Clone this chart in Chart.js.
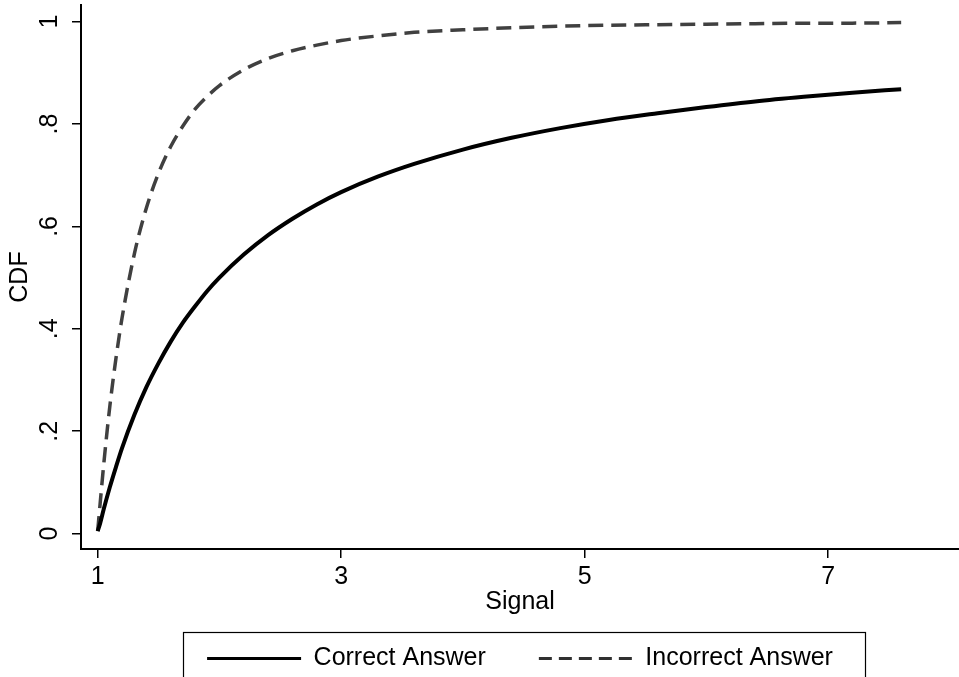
<!DOCTYPE html>
<html>
<head>
<meta charset="utf-8">
<script src="https://cdn.jsdelivr.net/npm/chart.js@4/dist/chart.umd.min.js"></script>
<style>
  html, body { margin: 0; padding: 0; background: #ffffff; }
  #wrap { width: 959px; height: 677px; position: relative; }
</style>
</head>
<body>
<div id="wrap"><canvas id="c" width="959" height="677"></canvas></div>
<script>
// Signal values (x)
const signalValues = [1.0, 1.02, 1.05, 1.1, 1.15, 1.2, 1.3, 1.4, 1.5, 1.6, 1.7, 1.8, 1.9, 2.0, 2.2, 2.4, 2.6, 2.8, 3.0, 3.3, 3.6, 4.0, 4.4, 4.8, 5.2, 5.6, 6.0, 6.4, 6.8, 7.2, 7.6];
// CDF of "Correct Answer" (solid line)
const correctCDF = [0.005, 0.020, 0.048, 0.091, 0.130, 0.167, 0.231, 0.286, 0.333, 0.375, 0.412, 0.444, 0.474, 0.500, 0.545, 0.583, 0.615, 0.643, 0.667, 0.697, 0.722, 0.750, 0.773, 0.792, 0.808, 0.821, 0.833, 0.844, 0.853, 0.861, 0.868];
// CDF of "Incorrect Answer" (dashed line)
const incorrectCDF = [0.005, 0.058, 0.136, 0.249, 0.342, 0.421, 0.545, 0.636, 0.704, 0.756, 0.796, 0.829, 0.854, 0.875, 0.906, 0.928, 0.943, 0.954, 0.963, 0.972, 0.979, 0.984, 0.988, 0.991, 0.993, 0.994, 0.995, 0.996, 0.997, 0.997, 0.998];

const seriesNames = ['Correct Answer', 'Incorrect Answer'];
const xTickValues = [1, 3, 5, 7];
const yTickValues = [0, 0.2, 0.4, 0.6, 0.8, 1];
const yTickLabels = ['0', '.2', '.4', '.6', '.8', '1'];
const xTitle = 'Signal';
const yTitle = 'CDF';

const FONT = '"Liberation Sans", Arial, Helvetica, sans-serif';
const FS = 25;

const toPoints = (xs, ys) => xs.map((x, i) => ({ x: x, y: ys[i] }));

// Draws rotated y tick labels (Stata style) and the legend frame
const stataExtras = {
  id: 'stataExtras',
  afterDraw(chart) {
    const ctx = chart.ctx;
    const ys = chart.scales.y;
    ctx.save();
    ctx.font = FS + 'px ' + FONT;
    ctx.fillStyle = '#000';
    ctx.textAlign = 'center';
    ctx.textBaseline = 'middle';
    ys.ticks.forEach((t) => {
      const py = ys.getPixelForValue(t.value);
      ctx.save();
      ctx.translate(50, py);
      ctx.rotate(-Math.PI / 2);
      ctx.fillText(t.label, 0, 0);
      ctx.restore();
    });
    ctx.restore();

    const lg = chart.legend;
    if (lg && lg.legendHitBoxes && lg.legendHitBoxes.length) {
      const hb = lg.legendHitBoxes;
      let left = Infinity, right = -Infinity, top = Infinity;
      hb.forEach(h => {
        left = Math.min(left, h.left);
        right = Math.max(right, h.left + h.width);
        top = Math.min(top, h.top);
      });
      ctx.save();
      ctx.strokeStyle = '#000';
      ctx.lineWidth = 1.2;
      ctx.strokeRect(Math.round(left - 24) + 0.5, Math.round(top - 14) + 0.5, Math.round(right - left + 56), 80);
      ctx.restore();
    }
  }
};

new Chart(document.getElementById('c'), {
  type: 'line',
  data: {
    datasets: [
      {
        label: seriesNames[0],
        data: toPoints(signalValues, correctCDF),
        borderColor: '#000000',
        backgroundColor: '#000000',
        borderWidth: 4,
        pointRadius: 0,
        fill: false,
        cubicInterpolationMode: 'monotone'
      },
      {
        label: seriesNames[1],
        data: toPoints(signalValues, incorrectCDF),
        borderColor: '#404040',
        backgroundColor: '#404040',
        borderWidth: 3.5,
        borderDash: [15, 8],
        pointRadius: 0,
        fill: false,
        cubicInterpolationMode: 'monotone'
      }
    ]
  },
  options: {
    responsive: false,
    animation: false,
    devicePixelRatio: 1,
    layout: { padding: { top: 5, right: 0, left: 0, bottom: -4 } },
    plugins: {
      tooltip: { enabled: false },
      legend: {
        position: 'bottom',
        fullSize: false,
        align: 'center',
        labels: {
          usePointStyle: true,
          pointStyle: 'line',
          pointStyleWidth: 94,
          padding: 53,
          color: '#000',
          font: { family: FONT, size: FS },
          generateLabels(chart) {
            const items = Chart.defaults.plugins.legend.labels.generateLabels(chart);
            items.forEach((it, i) => {
              it.lineWidth = 3;
              it.strokeStyle = i === 0 ? '#000000' : '#303030';
              it.pointStyle = 'line';
              it.lineDash = i === 0 ? [] : [13, 7];
            });
            return items;
          }
        }
      }
    },
    scales: {
      x: {
        type: 'linear',
        min: 0.863,
        max: 8.075,
        afterBuildTicks(scale) { scale.ticks = xTickValues.map(v => ({ value: v })); },
        afterFit(scale) { scale.height = 44; },
        grid: { drawOnChartArea: false, drawTicks: true, tickLength: 9, color: '#000', lineWidth: 1.5 },
        border: { display: true, color: '#000', width: 2 },
        ticks: {
          color: '#000',
          padding: 4,
          maxRotation: 0,
          font: { family: FONT, size: FS },
          callback: (v) => String(v)
        },
        title: {
          display: true,
          text: xTitle,
          color: '#000',
          font: { family: FONT, size: FS },
          padding: { top: 0, bottom: -24 }
        }
      },
      y: {
        type: 'linear',
        min: -0.030,
        max: 1.0324,
        afterBuildTicks(scale) { scale.ticks = yTickValues.map(v => ({ value: v })); },
        afterFit(scale) { scale.width = 81; },
        grid: { drawOnChartArea: false, drawTicks: true, tickLength: 9, color: '#000', lineWidth: 1.5 },
        border: { display: true, color: '#000', width: 2 },
        ticks: {
          display: false,
          font: { family: FONT, size: FS },
          callback: (v) => {
            const i = yTickValues.findIndex(t => Math.abs(t - v) < 1e-9);
            return i >= 0 ? yTickLabels[i] : '';
          }
        },
        title: {
          display: true,
          text: yTitle,
          color: '#000',
          font: { family: FONT, size: FS },
          padding: { top: 5, bottom: 0 }
        }
      }
    }
  },
  plugins: [stataExtras]
});
</script>
</body>
</html>
